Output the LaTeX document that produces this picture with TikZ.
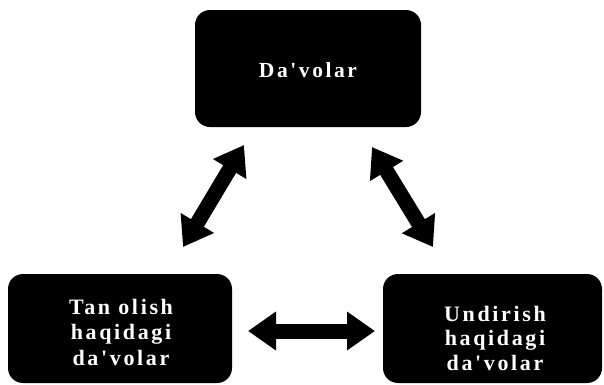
\documentclass[tikz,border=0pt]{standalone}
\usepackage{fontspec}
\newfontfamily\boxfont{Liberation Serif}[LetterSpace=12]
\usetikzlibrary{arrows.meta}
\tikzset{
  box/.style={fill=black, rounded corners=15pt, inner sep=0pt},
  lbl/.style={text=white, align=center, inner sep=0pt},
  bigarrow/.style={line width=15pt, {Triangle[width=37pt,length=28pt]}-{Triangle[width=37pt,length=28pt]}}
}
\begin{document}
\begin{tikzpicture}[x=1pt,y=-1pt]
\useasboundingbox (0,0) rectangle (604,384);
\node[box, minimum width=226pt, minimum height=117pt] (top) at (308,68.5) {};
\node[box, minimum width=224pt, minimum height=109pt] (left) at (120,328.5) {};
\node[box, minimum width=219pt, minimum height=109pt] (right) at (492.5,328.5) {};
\node[lbl, font=\boxfont\bfseries\fontsize{21.5}{25}\selectfont] (toptext) at (308,70) {Da'volar};
\node[lbl, font=\boxfont\bfseries\fontsize{22}{25.5}\selectfont] (lefttext) at (121,332) {Tan olish\\haqidagi\\da'volar};
\node[lbl, font=\boxfont\bfseries\fontsize{22}{24.5}\selectfont] (righttext) at (495,338) {Undirish\\haqidagi\\da'volar};
\coordinate (a1) at (183,247);
\coordinate (a2) at (244,145);
\coordinate (b1) at (372,147);
\coordinate (b2) at (433,247);
\coordinate (c1) at (248,331);
\coordinate (c2) at (375,331);
\draw[bigarrow] (a1) -- (a2);
\draw[bigarrow] (b1) -- (b2);
\draw[bigarrow] (c1) -- (c2);
\end{tikzpicture}
\end{document}
